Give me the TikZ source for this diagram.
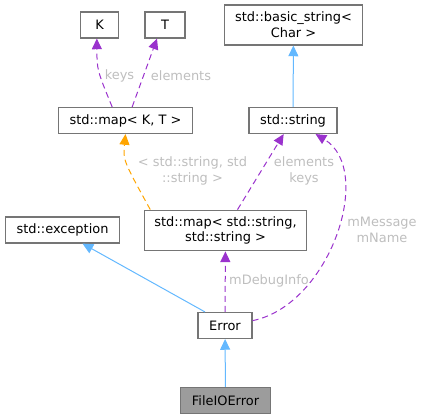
\documentclass[tikz,border=0pt]{standalone}
\usepackage{fontspec}
\setmainfont{DejaVu Sans}
\usepackage{xcolor}
\usepackage{tikz}
\usetikzlibrary{arrows.meta, positioning}

\definecolor{edgepurple}{HTML}{9A32CD}
\definecolor{edgeorange}{HTML}{FFA500}
\definecolor{edgeblue}{HTML}{63B8FF}
\definecolor{boxgray}{HTML}{666666}
\definecolor{labelgray}{HTML}{BEBEBE}

\begin{document}
\begin{tikzpicture}[
    x=0.75pt, y=0.75pt,
    font=\fontsize{9.7}{11.8}\selectfont,
    cls/.style={rectangle, draw=boxgray!90, fill=white, line width=0.85pt, minimum height=19.5pt, inner sep=0pt, align=center},
    cur/.style={cls, fill=boxgray!65},
    tipped/.style={line width=0.75pt, -{Triangle[length=8pt, width=7.5pt]}},
    inherit/.style={tipped, edgeblue},
    usage/.style={tipped, edgepurple, dash pattern=on 4.5pt off 3pt},
    templ/.style={tipped, edgeorange, dash pattern=on 4.5pt off 3pt},
    lbl/.style={text=labelgray, align=center, inner sep=0pt}
]
\useasboundingbox (0,0) rectangle (424,-419);

% classes
\node[cls, minimum width=29pt] (K) at (99.5,-25) {K};
\node[cls, minimum width=30pt] (T) at (165,-25) {T};
\node[cls, minimum width=101pt] (mapKT) at (125.5,-120.5) {std::map\textless{} K, T \textgreater{}};
\node[cls, minimum width=104pt, minimum height=30pt] (basicstr) at (293.5,-25) {std::basic\_string\textless{}\\Char \textgreater{}};
\node[cls, minimum width=66pt] (str) at (293,-120.5) {std::string};
\node[cls, minimum width=86pt] (exc) at (62.5,-230) {std::exception};
\node[cls, minimum width=122pt, minimum height=30.5pt] (mapSS) at (225.5,-230.5) {std::map\textless{} std::string,\\std::string \textgreater{}};
\node[cls, minimum width=40.5pt] (err) at (225,-325.5) {Error};
\node[cur, minimum width=68pt] (fio) at (225.5,-400.5) {FileIOError};

% inheritance
\draw[inherit] (str) -- (basicstr);
\draw[inherit] ([xshift=-15pt]err.north) -- ([xshift=15pt]exc.south);
\draw[inherit] (fio) -- (err);

% usage
\draw[usage] ([xshift=-10pt]mapKT.north) .. controls (97,-70) .. ([xshift=-2pt]K.south);
\draw[usage] ([xshift=5pt]mapKT.north) -- ([xshift=-6pt]T.south);
\draw[templ] ([xshift=5pt]mapSS.north west) .. controls (123,-160) .. (mapKT.south);
\draw[usage] ([xshift=9pt]mapSS.north) -- ([xshift=-7pt]str.south);
\draw[usage] (err) -- (mapSS);
\draw[usage] (err.10) .. controls (330,-305) and (375,-170) .. (str.-31);

% labels
\node[lbl] (keysK) at (119.5,-76) {keys};
\node[lbl] (elemT) at (181,-76) {elements};
\node[lbl] (tmplarg) at (192.5,-171) {\textless{} std::string, std\\::string \textgreater{}};
\node[lbl] (elemkeys) at (304,-171) {elements\\keys};
\node[lbl] (dbginfo) at (269,-281) {mDebugInfo};
\node[lbl] (msgname) at (382,-230) {mMessage\\mName};

\end{tikzpicture}
\end{document}
